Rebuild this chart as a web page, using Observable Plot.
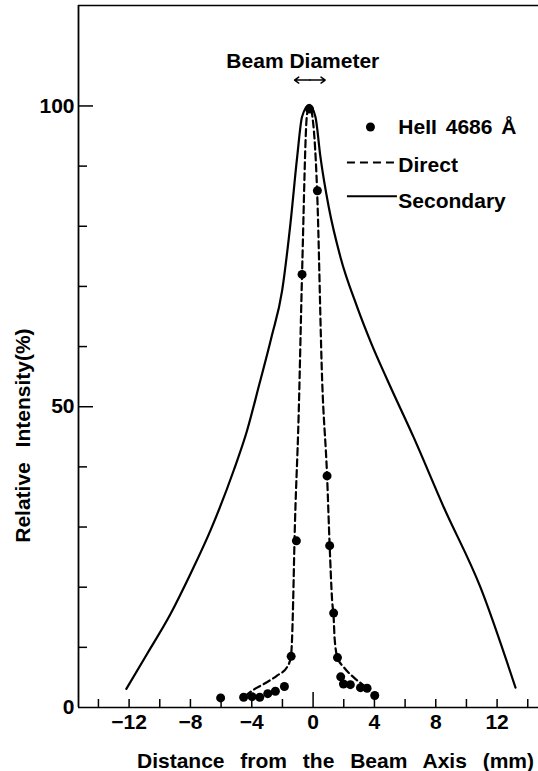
<!DOCTYPE html>
<html>
<head>
<meta charset="utf-8">
<script src="https://cdn.jsdelivr.net/npm/d3@7"></script>
<script src="https://cdn.jsdelivr.net/npm/@observablehq/plot@0.6"></script>
<style>
  html, body { margin: 0; padding: 0; background: #fff; }
</style>
</head>
<body>
<div id="chart"></div>
<script>
// HeII 4686 Å measured points
const heiiX = [-6.03, -4.53, -3.98, -3.48, -2.96, -2.46, -1.87, -1.43, -1.09, -0.72, -0.24, 0.28, 0.91, 1.08, 1.34, 1.59, 1.80, 1.98, 2.43, 3.09, 3.52, 4.02];
const heiiY = [1.6, 1.7, 1.8, 1.7, 2.3, 2.7, 3.5, 8.5, 27.7, 72.0, 99.5, 85.9, 38.5, 26.9, 15.7, 8.3, 5.1, 3.9, 3.8, 3.3, 3.2, 2.0];

// "Direct" dashed curve
const directX = [-4.42, -3.98, -3.22, -2.35, -1.70, -1.45, -1.37, -1.30, -1.22, -0.94, -0.72, -0.39, -0.20, -0.07, 0.26, 0.59, 0.91, 1.08, 1.24, 1.34, 1.40, 1.59, 2.00, 2.65, 3.19, 3.50];
const directY = [1.9, 2.8, 3.9, 5.3, 6.7, 8.4, 11.6, 17.7, 27.0, 48.8, 72.1, 98.7, 99.8, 98.7, 86.0, 54.4, 38.6, 26.9, 17.8, 15.0, 11.6, 8.3, 6.7, 5.0, 3.9, 3.3];

// "Secondary" solid curve
const secondaryX = [-12.18, -10.83, -9.31, -8.00, -6.70, -5.18, -4.31, -3.52, -2.72, -2.02, -1.48, -1.04, -0.72, -0.25, 0.15, 0.48, 1.02, 1.78, 2.87, 3.80, 4.85, 6.56, 8.52, 10.91, 13.20];
const secondaryY = [3.1, 8.9, 15.5, 22.2, 29.4, 39.4, 46.0, 53.6, 61.5, 69.3, 80.4, 91.5, 98.2, 100.2, 98.2, 91.5, 83.2, 74.9, 66.6, 60.5, 54.4, 44.9, 33.3, 20.0, 3.3];

// axes
const xDomain = [-15.3, 14.7];
const yDomain = [0, 116.7];
const xTickValues = [-14, -12, -10, -8, -6, -4, -2, 0, 2, 4, 6, 8, 10, 12, 14];
const xTickLabels = [-12, -8, -4, 0, 4, 8, 12];
const yTickValues = [10, 20, 30, 40, 50, 60, 70, 80, 90, 100];
const yTickLabels = [0, 50, 100];
const yMajorTicks = [50, 100];

// texts
const xTitle = "Distance from the Beam Axis (mm)";
const yTitle = "Relative Intensity(%)";
const legendLabels = ["HeII 4686 Å", "Direct", "Secondary"];
const beamLabel = "Beam Diameter";
const beamCenter = -0.21;
const beamDiameter = 2.0;

const heii = heiiX.map((x, i) => ({x, y: heiiY[i]}));
const direct = directX.map((x, i) => ({x, y: directY[i]}));
const secondary = secondaryX.map((x, i) => ({x, y: secondaryY[i]}));

const W = 538, H = 771, mL = 78, mR = 0, mT = 5, mB = 64;
const plotW = W - mL - mR, plotH = H - mT - mB;

const fmt = d => d < 0 ? "\u2212" + (-d) : String(d);

// annotation layout (data units)
const legX0 = 2.24, legX1 = 5.5, legTextX = 5.56, legDotX = 3.74;
const legY = [96.5, 90.2, 84.2];
const legLineY = [90.6, 85.0];
const xTitlePos = {x: 1.46, y: -8.98};
const yTitlePos = {x: -18.92, y: 45.2};

const chart = Plot.plot({
  width: W, height: H,
  marginLeft: mL, marginRight: mR, marginTop: mT, marginBottom: mB,
  x: {domain: xDomain},
  y: {domain: yDomain},
  style: {fontFamily: "'Liberation Sans', Arial, sans-serif", fontSize: "21px", fontWeight: "bold", background: "#fff", color: "#000", overflow: "visible"},
  marks: [
    // frame lines
    Plot.ruleY([yDomain[0]], {strokeWidth: 1.4}),
    Plot.ruleX([xDomain[0]], {strokeWidth: 1.8}),
    Plot.ruleY([yDomain[1]], {strokeWidth: 1.4}),
    // inward ticks
    Plot.tickX(xTickValues.filter(d => d !== 0), {x: d => d, insetTop: plotH - 8, strokeWidth: 1.5}),
    Plot.tickX([0], {x: d => d, insetTop: plotH - 15, strokeWidth: 1.5}),
    Plot.tickY(yTickValues.filter(d => !yMajorTicks.includes(d)), {y: d => d, insetRight: plotW - 9, strokeWidth: 1.5}),
    Plot.tickY(yMajorTicks, {y: d => d, insetRight: plotW - 15, strokeWidth: 1.5}),
    Plot.axisX({ticks: xTickLabels, tickSize: 0, tickPadding: 7, tickFormat: fmt, label: null}),
    Plot.axisY({ticks: yTickLabels, tickSize: 0, tickPadding: 4, tickFormat: fmt, label: null}),
    // axis titles
    Plot.text([xTitle], {x: xTitlePos.x, y: xTitlePos.y, text: d => d, lineAnchor: "middle"}),
    Plot.text([yTitle], {x: yTitlePos.x, y: yTitlePos.y, rotate: -90, text: d => d, lineAnchor: "middle"}),
    // curves
    Plot.line(secondary, {x: "x", y: "y", curve: "monotone-x", strokeWidth: 2.2}),
    Plot.line(direct, {x: "x", y: "y", curve: "monotone-x", strokeWidth: 2.2, strokeDasharray: "7,4"}),
    Plot.dot(heii, {x: "x", y: "y", r: 4.5, fill: "#000", stroke: null}),
    // beam diameter annotation
    Plot.text([beamLabel], {x: beamCenter - 0.46, y: 107.5, text: d => d}),
    Plot.arrow([{x1: beamCenter, x2: beamCenter - beamDiameter / 2}, {x1: beamCenter, x2: beamCenter + beamDiameter / 2}],
      {x1: "x1", x2: "x2", y1: 104.3, y2: 104.3, headLength: 6, headAngle: 70, strokeWidth: 1.5}),
    // legend
    Plot.dot([legendLabels[0]], {x: legDotX, y: legY[0], r: 4.5, fill: "#000", stroke: null}),
    Plot.ruleY([legLineY[0]], {y: d => d, x1: legX0, x2: legX1, strokeWidth: 2, strokeDasharray: "8,5"}),
    Plot.ruleY([legLineY[1]], {y: d => d, x1: legX0, x2: legX1, strokeWidth: 2}),
    Plot.text(legendLabels, {x: legTextX, y: (d, i) => legY[i], text: d => d, textAnchor: "start"})
  ]
});

document.getElementById("chart").appendChild(chart);

d3.select(chart).selectAll("text").each(function () {
  const t = this.textContent;
  if (t.startsWith("Distance")) this.style.wordSpacing = "10px";
  else if (t.startsWith("Relative")) this.style.wordSpacing = "9px";
  else if (t.startsWith("HeII")) this.style.wordSpacing = "3px";
});
</script>
</body>
</html>
